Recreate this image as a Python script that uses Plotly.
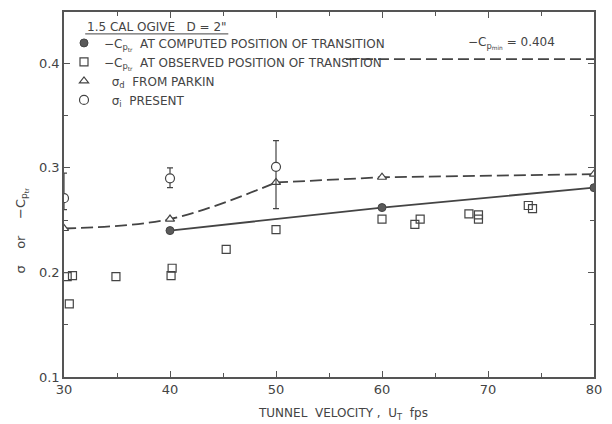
import plotly.graph_objects as go

# computed position of transition (filled circles, solid line)
comp_x = [40, 60, 80]
comp_y = [0.240, 0.262, 0.281]

# observed position of transition (open squares)
obs_x = [30.3, 30.8, 30.5, 34.9, 40.1, 40.2, 45.3, 50.0, 60.0, 63.1, 63.6, 68.2, 69.1, 69.1, 73.8, 74.2]
obs_y = [0.196, 0.197, 0.170, 0.196, 0.197, 0.204, 0.222, 0.241, 0.251, 0.246, 0.251, 0.256, 0.255, 0.251, 0.264, 0.261]

# sigma_d from Parkin (open triangles, dashed curve)
park_x = [30, 40, 50, 60, 80]
park_y = [0.242, 0.251, 0.286, 0.291, 0.294]

# sigma_i present (open circles with error bars)
pres_x = [30, 40, 50]
pres_y = [0.271, 0.290, 0.301]
pres_hi = [0.295, 0.300, 0.326]
pres_lo = [0.260, 0.281, 0.261]

# -Cp min line
cpmin_x = [56.6, 80]
cpmin_y = [0.404, 0.404]

INK = "#444444"
FONT = "DejaVu Sans"
DASH = "12px,5px"

fig = go.Figure()

# dashed Parkin curve: smooth part 30-50, straight part 50-80
fig.add_trace(go.Scatter(x=park_x[:3], y=park_y[:3], mode="lines",
                         line=dict(color=INK, width=1.8, dash=DASH, shape="spline", smoothing=1.0),
                         showlegend=False, hoverinfo="skip"))
fig.add_trace(go.Scatter(x=park_x[2:], y=park_y[2:], mode="lines",
                         line=dict(color=INK, width=1.8, dash=DASH),
                         showlegend=False, hoverinfo="skip"))
# solid computed line
fig.add_trace(go.Scatter(x=comp_x, y=comp_y, mode="lines",
                         line=dict(color=INK, width=1.8),
                         showlegend=False, hoverinfo="skip"))
# cp min line
fig.add_trace(go.Scatter(x=cpmin_x, y=cpmin_y, mode="lines",
                         line=dict(color=INK, width=1.8, dash="11px,5px"),
                         showlegend=False, hoverinfo="skip"))

fig.add_trace(go.Scatter(x=comp_x, y=comp_y, mode="markers",
                         marker=dict(symbol="circle", size=8, color="#5a5a5a",
                                     line=dict(color=INK, width=1)),
                         name="−C<sub>p<sub>tr</sub></sub>  AT COMPUTED POSITION OF TRANSITION"))
fig.add_trace(go.Scatter(x=obs_x, y=obs_y, mode="markers",
                         marker=dict(symbol="square-open", size=8, color=INK,
                                     line=dict(color=INK, width=1.2)),
                         name="−C<sub>p<sub>tr</sub></sub>  AT OBSERVED POSITION OF TRANSITION"))
fig.add_trace(go.Scatter(x=park_x, y=park_y, mode="markers",
                         marker=dict(symbol="triangle-up", size=8, color="white",
                                     line=dict(color=INK, width=1.2)),
                         name="  σ<sub>d</sub>  FROM PARKIN"))
fig.add_trace(go.Scatter(x=pres_x, y=pres_y, mode="markers",
                         marker=dict(symbol="circle", size=9, color="white",
                                     line=dict(color=INK, width=1.2)),
                         error_y=dict(type="data", symmetric=False,
                                      array=[h - v for h, v in zip(pres_hi, pres_y)],
                                      arrayminus=[v - l for l, v in zip(pres_lo, pres_y)],
                                      color=INK, thickness=1.2, width=3),
                         name="  σ<sub>i</sub>  PRESENT"))

axis_common = dict(showline=True, linecolor="#555555", linewidth=1.5, mirror="ticks",
                   ticks="inside", ticklen=6, tickwidth=1, tickcolor="#555555",
                   showgrid=False, zeroline=False,
                   tickfont=dict(family=FONT, size=13, color=INK))

fig.update_layout(
    width=612, height=424,
    margin=dict(l=64, r=14, t=10, b=47),
    paper_bgcolor="white", plot_bgcolor="white",
    font=dict(family=FONT, color=INK),
    xaxis=dict(range=[30, 80], tickvals=[30, 40, 50, 60, 70, 80],
               minor=dict(tickvals=[35, 45, 55, 65, 75], ticks="inside", ticklen=4, tickcolor="#555555"),
               **axis_common),
    yaxis=dict(range=[0.1, 0.449], tickvals=[0.1, 0.2, 0.3, 0.4], ticktext=["0.1", "0.2", "0.3", "0.4"],
               minor=dict(tickvals=[0.15, 0.25, 0.35], ticks="inside", ticklen=4, tickcolor="#555555"),
               **axis_common),
    legend=dict(x=0.0, y=0.955, xanchor="left", yanchor="top",
                bgcolor="rgba(0,0,0,0)", font=dict(family=FONT, size=12, color=INK),
                itemwidth=30, tracegroupgap=0),
    showlegend=True,
)

fig.add_annotation(xref="paper", yref="paper", x=0.04, y=0.96, xanchor="left", yanchor="middle",
                   text="1.5 CAL OGIVE   D = 2\"", showarrow=False,
                   font=dict(family=FONT, size=12, color=INK))
fig.add_shape(type="line", xref="paper", yref="paper", x0=0.04, x1=0.31, y0=0.94, y1=0.94,
              line=dict(color=INK, width=1))
fig.add_annotation(xref="paper", yref="paper", x=0.845, y=0.915, xanchor="center", yanchor="middle",
                   text="−C<sub>p<sub>min</sub></sub> <span style='font-family:DejaVu Sans'>= 0.404</span>",
                   showarrow=False, font=dict(family=FONT, size=12, color=INK))
fig.add_annotation(xref="paper", yref="paper", x=0.526, y=-0.075, xanchor="center", yanchor="top",
                   text="TUNNEL  VELOCITY ,  U<sub>T</sub>  fps", showarrow=False,
                   font=dict(family=FONT, size=12, color=INK))
fig.add_annotation(xref="paper", yref="paper", x=-0.08, y=0.40, xanchor="center", yanchor="middle",
                   text="σ    or    −C<sub>p<sub>tr</sub></sub>", textangle=-90, showarrow=False,
                   font=dict(family=FONT, size=13, color=INK))

fig.write_html("out.html", config={"displayModeBar": False},
               post_script="document.body.style.margin='0px';document.body.style.padding='0px';")
